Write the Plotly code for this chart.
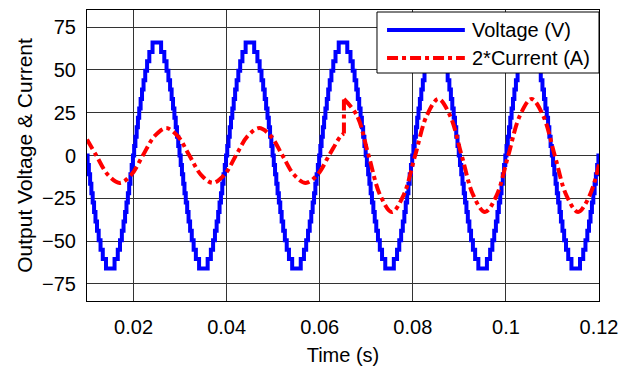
import plotly.graph_objects as go

# Staircase output voltage: level height and the quarter-cycle switching instants
# (milliseconds after each zero crossing) of the multilevel waveform.
STEP_LEVELS_V = [5.5, 11.0, 16.5, 22.0, 27.5, 33.0, 38.5, 44.0, 49.5, 55.0, 60.5, 66.0]
SWITCH_MS = [0.13, 0.40, 0.67, 0.94, 1.22, 1.52, 1.82, 2.15, 2.51, 2.91, 3.39, 4.08]
ZERO_CROSSINGS = [0.01, 0.02, 0.03, 0.04, 0.05, 0.06, 0.07, 0.08, 0.09, 0.10, 0.11]
HALF_PERIOD = 0.01

# 2*Current samples before and after the load step
I_T_BEFORE = [0.0100, 0.0120, 0.0145, 0.0170, 0.0195, 0.0220, 0.0245, 0.0270, 0.0295,
              0.0320, 0.0345, 0.0370, 0.0395, 0.0420, 0.0445, 0.0470, 0.0495, 0.0520,
              0.0545, 0.0570, 0.0595, 0.0620, 0.0645, 0.0652]
I_V_BEFORE = [9.4, 0.0, -11.3, -16.0, -11.3, 0.0, 11.3, 16.0, 11.3,
              0.0, -11.3, -16.0, -11.3, 0.0, 11.3, 16.0, 11.3, 0.0,
              -11.3, -16.0, -11.3, 0.0, 11.3, 12.8]
I_T_AFTER = [0.0652, 0.0680, 0.0705, 0.0730, 0.0755, 0.0780, 0.0805, 0.0830, 0.0855,
             0.0880, 0.0905, 0.0930, 0.0955, 0.0980, 0.1005, 0.1030, 0.1055, 0.1080,
             0.1105, 0.1130, 0.1155, 0.1180, 0.1200]
I_V_AFTER = [33.0, 23.3, 0.0, -23.3, -33.0, -23.3, 0.0, 23.3, 33.0,
             23.3, 0.0, -23.3, -33.0, -23.3, 0.0, 23.3, 33.0, 23.3,
             0.0, -23.3, -33.0, -23.3, -5.2]

X_TICKS = [0.02, 0.04, 0.06, 0.08, 0.10, 0.12]
X_TICK_TEXT = ["0.02", "0.04", "0.06", "0.08", "0.1", "0.12"]
Y_TICKS = [-75, -50, -25, 0, 25, 50, 75]

BLUE = "#0000FF"
RED = "#FF0000"
FONT = "Liberation Sans, Arial, sans-serif"
FS = 20

# Build the stepped voltage from the switching table, half cycle by half cycle
vt, vv = [], []
sw = [s / 1000.0 for s in SWITCH_MS]
for k, z in enumerate(ZERO_CROSSINGS):
    sign = -1 if k % 2 == 0 else 1
    vt.append(z)
    vv.append(0.0)
    for s, lvl in zip(sw, STEP_LEVELS_V):
        vt.append(z + s)
        vv.append(sign * lvl)
    lower = [0.0] + STEP_LEVELS_V[:-1]
    for s, lvl in zip(reversed(sw), reversed(lower)):
        vt.append(z + HALF_PERIOD - s)
        vv.append(sign * lvl)
vt.append(ZERO_CROSSINGS[-1] + HALF_PERIOD)
vv.append(0.0)

DASH = "11px,4px,4px,4px"
LW = 4

fig = go.Figure()
fig.add_trace(go.Scatter(x=vt, y=vv, mode="lines", line=dict(color=BLUE, width=LW, shape="hv"),
                         name="Voltage (V)", showlegend=False))
fig.add_trace(go.Scatter(x=I_T_BEFORE, y=I_V_BEFORE, mode="lines",
                         line=dict(color=RED, width=LW, dash=DASH, shape="spline", smoothing=1.0),
                         name="2*Current (A)", showlegend=False))
fig.add_trace(go.Scatter(x=[I_T_BEFORE[-1], I_T_AFTER[0]], y=[I_V_BEFORE[-1], I_V_AFTER[0]],
                         mode="lines", line=dict(color=RED, width=LW, dash=DASH),
                         showlegend=False))
fig.add_trace(go.Scatter(x=I_T_AFTER, y=I_V_AFTER, mode="lines",
                         line=dict(color=RED, width=LW, dash=DASH, shape="spline", smoothing=1.0),
                         showlegend=False))

axis_common = dict(showline=True, linecolor="black", linewidth=1, mirror=True,
                   showgrid=True, gridcolor="#333333", gridwidth=1, zeroline=False,
                   ticks="", tickfont=dict(family=FONT, size=FS, color="black"))

fig.update_xaxes(range=[0.01, 0.12], tickvals=X_TICKS, ticktext=X_TICK_TEXT,
                 title=dict(text="Time (s)", font=dict(family=FONT, size=FS, color="black"), standoff=10),
                 ticklabelstandoff=8, **axis_common)
fig.update_yaxes(range=[-85, 85], tickvals=Y_TICKS,
                 title=dict(text="Output Voltage & Current", font=dict(family=FONT, size=21, color="black"),
                            standoff=3),
                 ticklabelstandoff=6, **axis_common)

# Legend box drawn in paper coordinates
shapes = [
    dict(type="rect", xref="paper", yref="paper", x0=0.5664, x1=1.0, y0=0.7835, y1=0.9931,
         line=dict(color="black", width=1), fillcolor="white", layer="above"),
    dict(type="line", xref="paper", yref="paper", x0=0.586, x1=0.738, y0=0.931, y1=0.931,
         line=dict(color=BLUE, width=LW), layer="above"),
    dict(type="line", xref="paper", yref="paper", x0=0.586, x1=0.738, y0=0.835, y1=0.835,
         line=dict(color=RED, width=LW, dash=DASH), layer="above"),
]
annotations = [
    dict(xref="paper", yref="paper", x=0.749, y=0.931, xanchor="left", yanchor="middle",
         text="Voltage (V)", showarrow=False, font=dict(family=FONT, size=FS, color="black")),
    dict(xref="paper", yref="paper", x=0.749, y=0.835, xanchor="left", yanchor="middle",
         text="2*Current (A)", showarrow=False, font=dict(family=FONT, size=FS, color="black")),
]

fig.update_layout(width=628, height=372, margin=dict(l=87, r=29, t=10, b=71),
                  paper_bgcolor="white", plot_bgcolor="white",
                  shapes=shapes, annotations=annotations, showlegend=False)

fig.write_html("out.html")
